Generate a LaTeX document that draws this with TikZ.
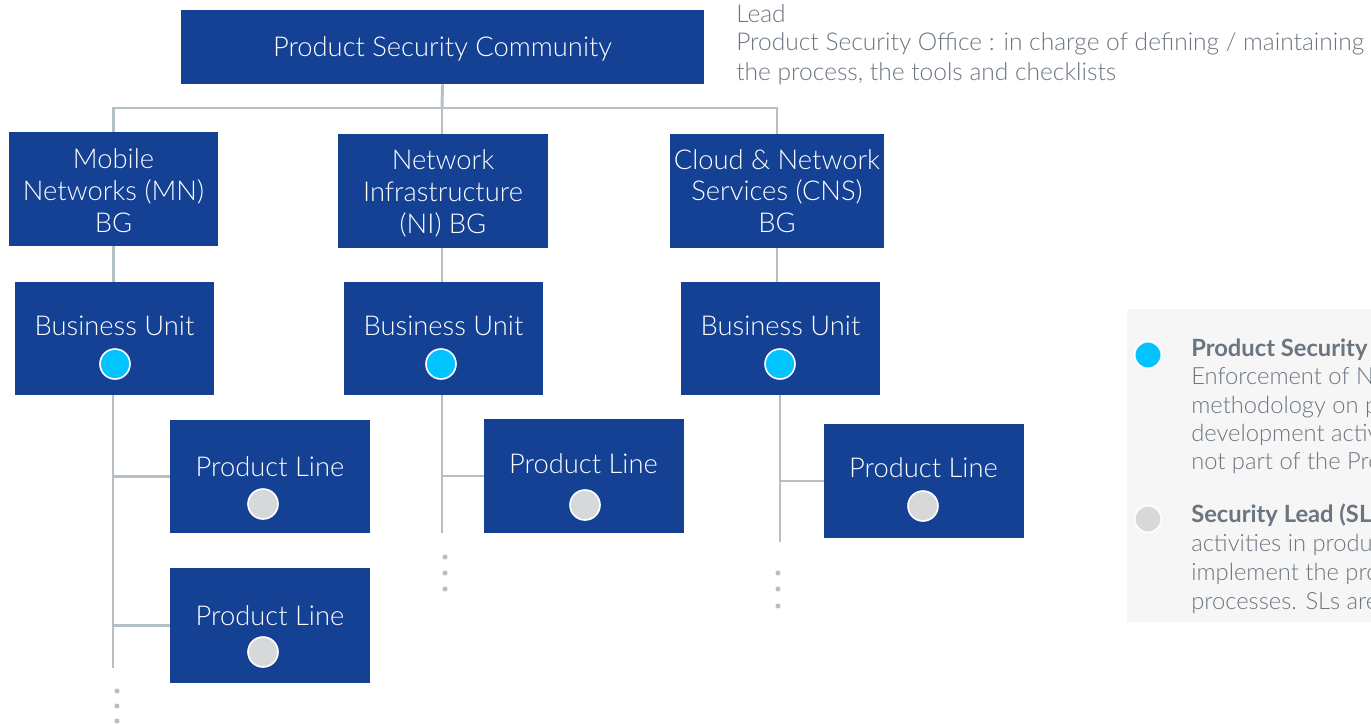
\documentclass[tikz,border=0pt]{standalone}
\usepackage{fontspec}
\IfFontExistsTF{Lato Light}{\setmainfont{Lato Light}\newfontfamily\boldf{Lato}[BoldFont={* Bold}]}{\setmainfont{Open Sans}\newfontfamily\boldf{Open Sans}}
\usetikzlibrary{fit}
\definecolor{nblue}{HTML}{144194}
\definecolor{nline}{HTML}{B4C0C6}
\definecolor{ncyan}{HTML}{00C3FF}
\definecolor{ngray}{HTML}{D7D8DA}
\definecolor{ntext}{HTML}{6B7580}
\definecolor{nlegbg}{HTML}{F6F6F6}
\newcommand{\fsz}[2]{\fontsize{#1}{#2}\selectfont}
\begin{document}
\begin{tikzpicture}[x=0.75pt,y=-0.75pt,
  box/.style={fill=nblue, inner sep=0pt},
  lbl/.style={text=white, inner sep=0pt, anchor=base, font=\fsz{20.5}{24}},
  conn/.style={draw=nline, line width=2.2pt},
  cdot/.style={circle, fill=ncyan, draw=white, line width=1.2pt, minimum size=22.5pt, inner sep=0pt},
  gdot/.style={circle, fill=ngray, draw=white, line width=1.2pt, minimum size=22.5pt, inner sep=0pt},
  side/.style={text=ntext, inner sep=0pt, anchor=base west, font=\fsz{18.4}{21.4}},
  leg/.style={text=ntext, inner sep=0pt, anchor=base west, font=\fsz{17.8}{21.4}}]
\useasboundingbox (0,0) rectangle (1371,724);
\clip (0,0) rectangle (1371,724);
% top
\node[box, fit={(181,10)(704,84)}] (top) {};
\node[lbl] (topt) at (442.5,57) {Product Security Community};
\node[side] (note1) at (736,23) {Lead};
\node[side] (note2) at (736,51) {Product Security Office : in charge of defining / maintaining};
\node[side] (note3) at (736,80) {the process, the tools and checklists};
% BG boxes
\node[box, fit={(9,132)(218,246)}] (mn) {};
\node[box, fit={(338,134)(548,248)}] (ni) {};
\node[box, fit={(670,134)(884,248)}] (cns) {};
\node[lbl] (mn1) at (113.5,168) {Mobile};
\node[lbl] (mn2) at (113.5,200) {Networks (MN)};
\node[lbl] (mn3) at (113.5,232) {BG};
\node[lbl] (ni1) at (443,169) {Network};
\node[lbl] (ni2) at (443,201) {Infrastructure};
\node[lbl] (ni3) at (443,233) {(NI) BG};
\node[lbl] (cns1) at (777,169) {Cloud \& Network};
\node[lbl] (cns2) at (777,200) {Services (CNS)};
\node[lbl] (cns3) at (777,232) {BG};
% BU boxes
\node[box, fit={(15,282)(214,395)}] (bu1) {};
\node[box, fit={(344,282)(543,395)}] (bu2) {};
\node[box, fit={(681,282)(880,395)}] (bu3) {};
\node[lbl] (bu1t) at (114.5,335) {Business Unit};
\node[lbl] (bu2t) at (443.5,335) {Business Unit};
\node[lbl] (bu3t) at (780.5,335) {Business Unit};
\node[cdot] (bu1c) at (115,364) {};
\node[cdot] (bu2c) at (441,364) {};
\node[cdot] (bu3c) at (780,364) {};
% Product line boxes
\node[box, fit={(170,420)(370,533)}] (pl1) {};
\node[box, fit={(170,568)(370,683)}] (pl2) {};
\node[box, fit={(484,419)(684,533)}] (pl3) {};
\node[box, fit={(824,424)(1024,538)}] (pl4) {};
\node[lbl] (pl1t) at (270,476) {Product Line};
\node[lbl] (pl2t) at (270,625) {Product Line};
\node[lbl] (pl3t) at (583.5,473) {Product Line};
\node[lbl] (pl4t) at (923.5,477) {Product Line};
\node[gdot] (pl1c) at (263,504) {};
\node[gdot] (pl2c) at (263,652) {};
\node[gdot] (pl3c) at (585,505) {};
\node[gdot] (pl4c) at (923,506) {};
% connectors top
\coordinate (jt) at (442,108);
\draw[conn] (top.south) -- (jt);
\draw[conn] (mn.north) |- (jt) -| (cns.north);
\draw[conn] (jt) -- (jt |- ni.north);
\draw[conn] (mn.south) -- (mn.south |- bu1.north);
\draw[conn] (jt |- ni.south) -- (jt |- bu2.north);
\draw[conn] (cns.south) -- (cns.south |- bu3.north);
% trunks
\coordinate (e1) at (113,668);
\coordinate (e2) at (442,533);
\coordinate (e3) at (780,542);
\draw[conn] (e1 |- bu1.south) -- (e1);
\draw[conn] (e2 |- bu2.south) -- (e2);
\draw[conn] (e3 |- bu3.south) -- (e3);
\draw[conn] (e1 |- pl1.west) -- (pl1.west);
\draw[conn] (e1 |- pl2.west) -- (pl2.west);
\draw[conn] (e2 |- pl3.west) -- (pl3.west);
\draw[conn] (e3 |- pl4.west) -- (pl4.west);
% dots
\foreach \y in {691,706,721} \fill[nline] (117,\y) circle (1.9pt);
\foreach \y in {557,573,589} \fill[nline] (445,\y) circle (1.9pt);
\foreach \y in {573,589,606} \fill[nline] (778,\y) circle (1.9pt);
% legend
\node[fill=nlegbg, inner sep=0pt, fit={(1127,309)(1500,622)}] (legbox) {};
\node[cdot, minimum size=20pt] (lc1) at (1148,355) {};
\node[gdot, minimum size=20pt] (lc2) at (1148,519) {};
\node[leg] (la1) at (1191,356) {{\boldf\bfseries Product Security Champion}};
\node[leg] (la2) at (1191,384) {Enforcement of Nokia};
\node[leg] (la3) at (1191,413) {methodology on product};
\node[leg] (la4) at (1191,441) {development activities};
\node[leg] (la5) at (1191,469) {not part of the Product};
\node[leg] (lb1) at (1191,522) {{\boldf\bfseries Security Lead (SL)}};
\node[leg] (lb2) at (1191,551) {activities in product};
\node[leg] (lb3) at (1191,580) {implement the product};
\node[leg] (lb4) at (1191,609) {processes. SLs are};
\end{tikzpicture}
\end{document}
